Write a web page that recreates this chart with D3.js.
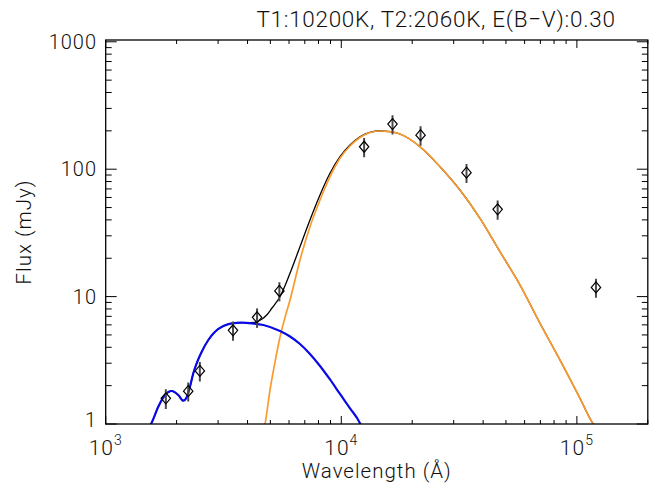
<!DOCTYPE html>
<html lang="en">
<head>
    <meta charset="UTF-8">
    <title>SED fit</title>
    <script src="https://d3js.org/d3.v7.min.js"></script>
    <style>
        body { margin: 0; background: #fff; }
        text { font-family: Roboto, "DejaVu Sans", sans-serif; font-weight: 300; fill: #111; }
        .frame { fill: none; stroke: #000; stroke-width: 1.3px; }
        .tick { stroke: #000; stroke-width: 1px; }
    </style>
</head>
<body>
    <svg width="659" height="486"></svg>
    <script>
        // photometry (wavelength in Angstrom, flux and 1-sigma error in mJy)
        const obsLambda = [1800, 2240, 2510, 3470, 4390, 5460, 12500, 16500, 21700, 34000, 46100, 120500];
        const obsFlux   = [1.59, 1.81, 2.61, 5.44, 6.88, 11.07, 150, 226, 185, 93.9, 48.4, 11.8];
        const obsErr    = [0.28, 0.31, 0.45, 0.93, 1.2, 1.9, 26, 39, 32, 16, 8.3, 2.0];

        // hot component (T1 = 10200 K, reddened)
        const hotLambda = [1530, 1557, 1672, 1785, 1906, 2033, 2135, 2207, 2279, 2354, 2433, 2556, 2726, 2911,
                           3157, 3426, 3777, 4166, 4667, 5493, 6058, 6678, 7363, 8121, 8954, 9874, 10888, 12004, 12100];
        const hotFlux   = [0.95, 1.0, 1.367, 1.689, 1.816, 1.689, 1.524, 1.621, 1.963, 2.50, 2.996, 3.694, 4.563, 5.302,
                           5.877, 6.171, 6.239, 6.171, 5.985, 5.37, 4.862, 4.246, 3.544, 2.853, 2.236, 1.720, 1.328, 1.013, 0.98];

        // cool component (T2 = 2060 K)
        const coolLambda = [4700, 4745, 4982, 5232, 5493, 5730, 6058, 6678, 7363, 8121, 8954, 9874, 10888, 12004,
                            13237, 14597, 16097, 17748, 21580, 26240, 31900, 38790, 47170, 57350, 69730, 84780, 103100, 117400, 120000];
        const coolFlux   = [0.92, 1.0, 1.849, 3.066, 4.819, 6.551, 9.404, 19.38, 35.38, 57.32, 87.34, 121.8, 152.1, 177.4,
                            194.1, 199.5, 197.0, 188.9, 150.2, 104.6, 68.66, 41.18, 22.51, 12.34, 6.171, 3.180, 1.591, 1.0, 0.95];

        // total model
        const sumLambda = [1530, 1557, 1672, 1785, 1906, 2033, 2135, 2207, 2279, 2354, 2433, 2556, 2726, 2911, 3157, 3426,
                           3777, 3902, 4302, 4594, 4824, 5080, 5493, 6058, 6678, 7363, 8121, 8954, 9874, 10888, 12004,
                           13237, 14597, 16097, 17748, 21580, 26240, 31900, 38790, 47170, 57350, 69730, 84780, 103100, 117400, 120000];
        const sumFlux   = [0.95, 1.0, 1.367, 1.689, 1.816, 1.689, 1.524, 1.621, 1.963, 2.50, 2.996, 3.694, 4.563, 5.302, 5.877, 6.171,
                           6.239, 6.239, 6.273, 6.635, 7.171, 8.138, 9.98, 15.24, 24.64, 39.93, 62.75, 92.85, 125.4, 154.9, 179.9,
                           194.8, 199.5, 197.0, 188.9, 150.2, 104.6, 68.66, 41.18, 22.51, 12.34, 6.171, 3.180, 1.591, 1.0, 0.95];

        const xDomain = [1e3, 2e5];
        const yDomain = [1, 1033];
        const title = "T1:10200K, T2:2060K, E(B\u2212V):0.30";

        const pLeft = 105.7, pRight = 647.8, pTop = 40, pBottom = 424;
        const svg = d3.select("svg");

        const x = d3.scaleLog().domain(xDomain).range([pLeft, pRight]);
        const y = d3.scaleLog().domain(yDomain).range([pBottom, pTop]);

        svg.append("defs").append("clipPath").attr("id", "clip")
            .append("rect").attr("x", pLeft).attr("y", pTop)
            .attr("width", pRight - pLeft).attr("height", pBottom - pTop);

        // ticks, IDL style: inward on all four sides
        const isMajor = v => Math.abs(Math.log10(v) - Math.round(Math.log10(v))) < 1e-9;
        const tg = svg.append("g");
        x.ticks().forEach(v => {
            const len = isMajor(v) ? 8 : 4;
            const px = x(v);
            tg.append("line").attr("class", "tick").attr("x1", px).attr("x2", px).attr("y1", pBottom).attr("y2", pBottom - len);
            tg.append("line").attr("class", "tick").attr("x1", px).attr("x2", px).attr("y1", pTop).attr("y2", pTop + len);
        });
        y.ticks().forEach(v => {
            const len = isMajor(v) ? 11 : 6;
            const py = y(v);
            tg.append("line").attr("class", "tick").attr("x1", pLeft).attr("x2", pLeft + len).attr("y1", py).attr("y2", py);
            tg.append("line").attr("class", "tick").attr("x1", pRight).attr("x2", pRight - len).attr("y1", py).attr("y2", py);
        });

        // x tick labels 10^n
        x.ticks().filter(isMajor).forEach(v => {
            const t = svg.append("text").attr("x", x(v)).attr("y", 455)
                .attr("text-anchor", "middle").attr("font-size", 21).attr("letter-spacing", 1);
            t.append("tspan").text("10");
            t.append("tspan").attr("dy", -10).attr("font-size", 14).text(Math.round(Math.log10(v)));
        });

        // y tick labels
        y.ticks().filter(isMajor).forEach(v => {
            svg.append("text").attr("x", 97).attr("y", y(v) + (v === 1 ? -4 : 0))
                .attr("dy", "0.35em").attr("text-anchor", "end").attr("font-size", 20).attr("letter-spacing", 1)
                .text(d3.format("d")(v));
        });

        // model curves
        const plot = svg.append("g").attr("clip-path", "url(#clip)");
        const line = d3.line().x(d => x(d[0])).y(d => y(d[1])).curve(d3.curveMonotoneX);

        plot.append("path").datum(d3.zip(sumLambda, sumFlux))
            .attr("d", line).attr("fill", "none").attr("stroke", "#000").attr("stroke-width", 1.3);
        plot.append("path").datum(d3.zip(coolLambda, coolFlux))
            .attr("d", line).attr("fill", "none").attr("stroke", "#fb9b2d").attr("stroke-width", 1.7);
        plot.append("path").datum(d3.zip(hotLambda, hotFlux))
            .attr("d", line).attr("fill", "none").attr("stroke", "#0a0ae6").attr("stroke-width", 2.2);

        // observations with error bars
        const obs = obsLambda.map((l, i) => ({ l: l, f: obsFlux[i], e: obsErr[i] }));
        plot.selectAll(".err").data(obs).enter().append("line")
            .attr("x1", d => x(d.l)).attr("x2", d => x(d.l))
            .attr("y1", d => y(d.f - d.e)).attr("y2", d => y(d.f + d.e))
            .attr("stroke", "#4a4a4a").attr("stroke-width", 2);
        plot.selectAll(".pt").data(obs).enter().append("path")
            .attr("transform", d => `translate(${x(d.l)},${y(d.f)})`)
            .attr("d", "M0,-5.5L4.7,0L0,5.5L-4.7,0Z")
            .attr("fill", "none").attr("stroke", "#000").attr("stroke-width", 1.2);

        svg.append("rect").attr("class", "frame")
            .attr("x", pLeft).attr("y", pTop).attr("width", pRight - pLeft).attr("height", pBottom - pTop);

        // titles
        svg.append("text").attr("x", 436).attr("y", 27)
            .attr("text-anchor", "middle").attr("font-size", 22.5).attr("letter-spacing", 0.7).text(title);
        svg.append("text").attr("x", (pLeft + pRight) / 2).attr("y", 478)
            .attr("text-anchor", "middle").attr("font-size", 20.5).attr("letter-spacing", 1).text("Wavelength (\u00c5)");
        svg.append("text").attr("transform", `translate(31,${(pTop + pBottom) / 2}) rotate(-90)`)
            .attr("text-anchor", "middle").attr("font-size", 20.5).attr("letter-spacing", 1).text("Flux (mJy)");
    </script>
</body>
</html>
